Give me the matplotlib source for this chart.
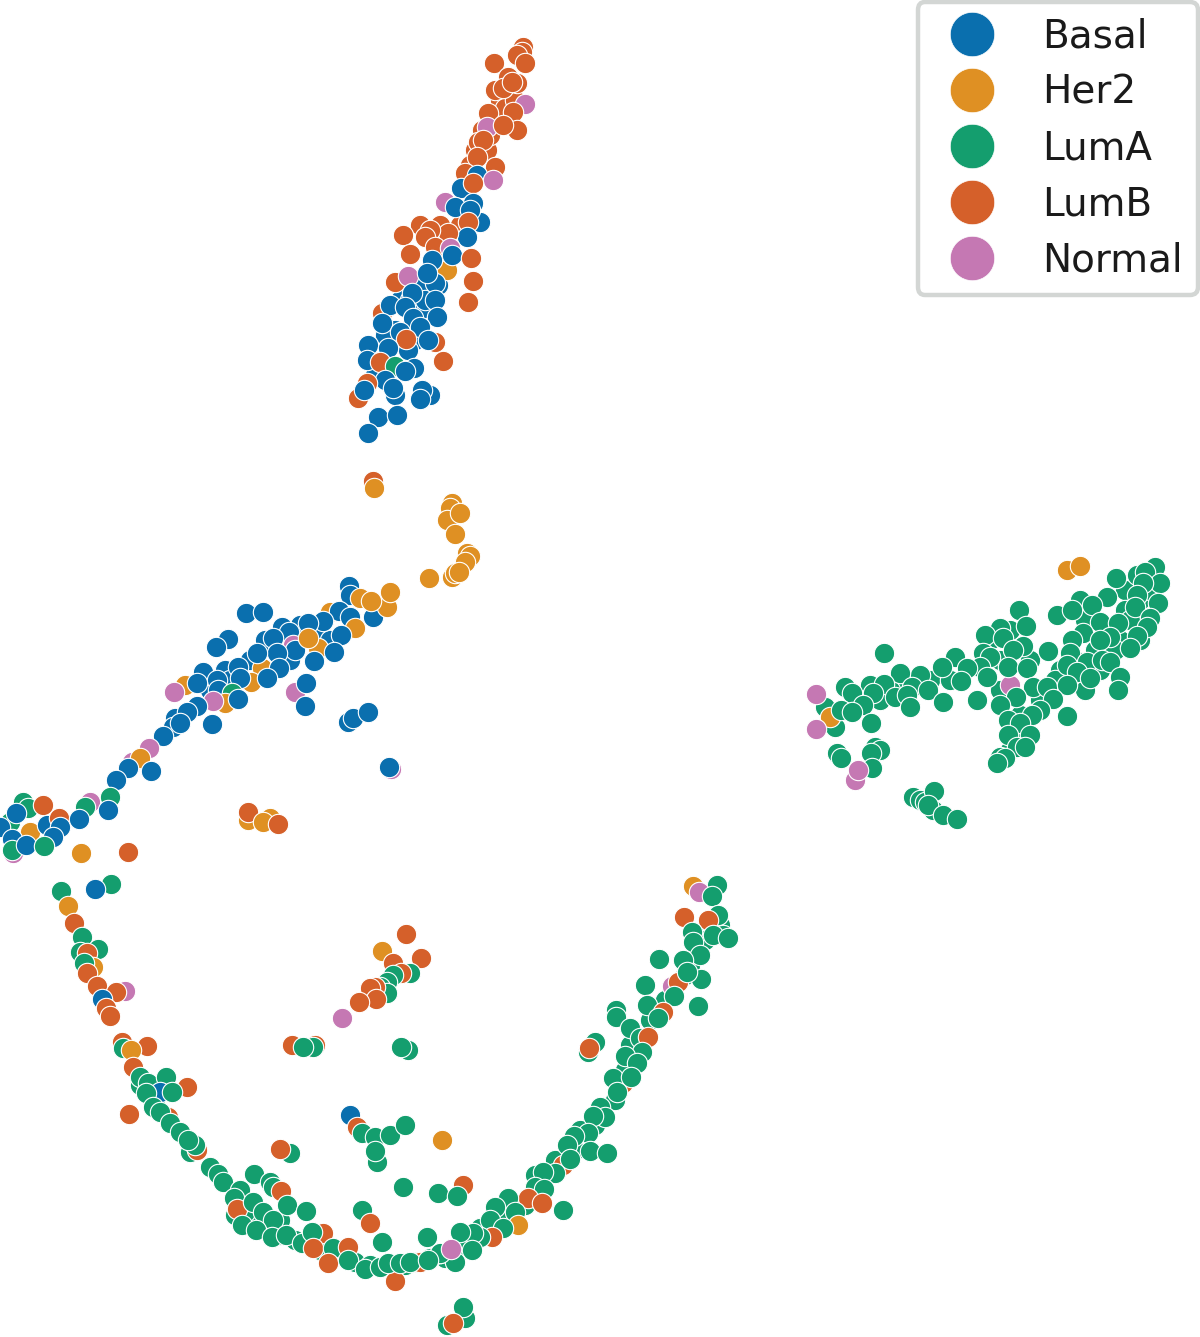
import matplotlib
matplotlib.use('Agg')
import matplotlib.pyplot as plt
from matplotlib.lines import Line2D

subtypes = ['Basal', 'Her2', 'LumA', 'LumB', 'Normal']
codes = ['B', 'H', 'A', 'L', 'N']
colors = ['#0A6FAE', '#DF9023', '#149E6E', '#D5602A', '#C578B3']

# embedding values per cluster, in draw order (later points sit on top)
dense_x = [500, 510, 497, 505, 475, 487, 482, 490, 470, 515,
           438, 420, 400, 420, 395, 415, 410, 425, 385, 375, 395, 408, 390,
           440, 420, 460,
           300, 320, 300, 285, 265, 225, 210, 230, 250, 175, 330, 290,
           1125, 1140, 1150, 1125, 1120, 1095, 1075, 1060, 1085, 1055,
           1100, 1040, 1020, 1015, 1000, 990, 1010, 1030, 1000, 930,
           905, 890, 870, 860, 950, 880, 1130, 1115, 1140, 1085,
           1025, 1010, 1000,
           235, 250, 265, 280, 295, 320, 355, 415, 370, 395,
           405, 245, 280, 155, 140, 190,
           480, 500, 525, 535, 555, 575, 580, 595, 600, 615,
           625, 635, 630, 650, 665, 685, 690, 700, 710, 705,
           720, 460, 445]
dense_y = [100, 95, 118, 108, 150, 150, 130, 135, 165, 100,
           285, 285, 300, 310, 330, 340, 300, 300, 335, 375, 395, 350, 365,
           225, 225, 225,
           640, 630, 625, 655, 640, 670, 690, 680, 660, 718, 640, 660,
           590, 600, 590, 610, 640, 650, 660, 670, 690, 680,
           670, 700, 715, 735, 690, 640, 630, 660, 660, 680,
           680, 690, 685, 700, 680, 700, 620, 650, 640, 620,
           735, 750, 757,
           1215, 1220, 1225, 1235, 1240, 1250, 1262, 1262, 1265, 1265,
           1265, 1212, 1220, 1100, 1085, 1152,
           1228, 1215, 1205, 1175, 1160, 1150, 1130, 1125, 1115, 1100,
           1070, 1050, 1045, 1020, 1000, 975, 965, 945, 925, 940,
           925, 1245, 1258]
dense_type = list('L' * 10 + 'B' * 13 + 'L' * 3 + 'B' * 12 + 'A' * 33 + 'A' * 16 + 'A' * 23)

upper_x = [523, 522, 517, 494, 525, 508, 517, 495, 503, 512,
           525, 488, 513, 487, 517, 503, 478, 483, 495, 477,
           465, 477, 461, 493, 473, 445, 480, 473, 455, 470,
           468, 467, 448, 403, 430, 425, 435, 410, 450, 447,
           395, 408, 432, 452, 435, 427, 471, 473, 468, 412,
           382, 390, 405, 435, 437, 413, 382, 400, 420, 406,
           435, 428, 368, 388, 443, 367, 380, 395, 422, 414,
           405, 385, 393, 367, 358, 364, 430, 422, 420, 378,
           397, 368]
upper_y = [47, 52, 55, 63, 63, 77, 83, 90, 88, 82,
           104, 113, 112, 127, 130, 125, 142, 140, 167, 157,
           173, 175, 188, 180, 183, 202, 222, 203, 207, 210,
           222, 237, 233, 235, 230, 237, 247, 254, 248, 270,
           282, 276, 260, 255, 283, 273, 258, 281, 302, 293,
           313, 305, 307, 300, 317, 318, 323, 332, 327, 339,
           342, 340, 345, 348, 361, 360, 362, 366, 390, 368,
           371, 380, 388, 383, 398, 390, 395, 390, 399, 417,
           415, 433]
upper_type = list('LLLLLLLLLL'
                  'NLLNLLLLLL'
                  'LBBNLNBBBB'
                  'LBLLLLLLNH'
                  'LNBBBBLLLB'
                  'LBBBBBBBBL'
                  'LBBBLBLABB'
                  'BBBLLBBBBB'
                  'BB')

her2_x = [373, 374, 452, 450, 447, 460, 455, 467, 470, 465, 429, 452, 455, 459]
her2_y = [481, 488, 503, 508, 520, 513, 534, 553, 556, 562, 578, 577, 573, 572]
her2_type = list('LHHHHHHHHHHHHH')

middle_x = [349, 350, 360, 330, 339, 350, 323, 308, 282, 289,
            373, 387, 390, 371, 355, 341, 273, 293, 318, 295,
            308, 228, 216, 334, 277, 262, 257, 314, 279, 238,
            251, 203, 240, 217, 185, 197, 218, 267, 174, 232,
            225, 238, 213, 197, 187, 295, 306, 305, 348, 353,
            368, 212, 173, 180, 163, 149, 132, 140, 128, 151,
            116, 391, 389]
middle_y = [586, 595, 598, 612, 611, 617, 621, 623, 627, 632,
            617, 607, 592, 601, 628, 635, 638, 645, 648, 650,
            638, 639, 647, 652, 653, 668, 653, 661, 668, 667,
            682, 672, 678, 680, 685, 683, 690, 678, 692, 693,
            703, 699, 701, 706, 712, 692, 683, 706, 722, 718,
            712, 724, 727, 723, 736, 748, 762, 758, 768, 771,
            780, 769, 767]
middle_type = list('BBHHBBBBBB'
                   'BHHHHBBNHB'
                   'HBBBBHBBBB'
                   'HBBBHBBBNA'
                   'HBNBBNBBBB'
                   'BBBBBNNHBB'
                   'BNB')

pair_x = [246, 263]
pair_y = [613, 612]
pair_type = list('BB')

blob_x = [23, 28, 90, 85, 10, 43, 16, 30, 47, 59,
          0, 60, 79, 110, 108, 53, 12, 13, 12, 26,
          44, 81, 128, 248, 248, 270, 263, 278]
blob_y = [802, 808, 802, 807, 822, 805, 813, 832, 825, 818,
          827, 827, 819, 797, 810, 837, 839, 853, 850, 845,
          846, 853, 852, 820, 812, 818, 822, 824]
blob_type = list('AANAALBHBL'
                 'BBBABBBNAB'
                 'AHLHLHHL')

right_x = [1010, 825, 835, 830, 816, 816, 1067, 1080,
           1155, 1137, 1145, 1116, 1160, 1143, 1137, 1158, 1080, 1107,
           1092, 1135, 1057, 1072, 1019, 1150, 1100, 1118, 1147, 1026,
           1000, 985, 1003, 1083, 1137, 1110, 1100, 1130, 1023, 1013,
           1048, 1072, 884, 983, 990, 1070, 955, 1087, 1102, 1110,
           1067, 980, 942, 1008, 1027, 967, 920, 1077, 900, 987,
           961, 1090, 1120, 884, 845, 912, 928, 852, 1033, 1047,
           1067, 873, 895, 907, 943, 1118, 977, 1016, 1053, 1000,
           910, 863, 841, 852, 1067, 1040, 1032, 871, 1008, 1020,
           1008, 1030, 1017, 1025, 1005, 997,
           837, 841, 875, 880, 871, 872, 855, 858,
           913, 920, 925, 934, 933, 928, 943, 957]
right_y = [685, 707, 727, 717, 694, 729, 570, 566,
           567, 575, 572, 578, 583, 583, 595, 603, 600, 597,
           605, 607, 615, 610, 610, 618, 622, 623, 627, 626,
           628, 635, 638, 633, 636, 637, 640, 648, 646, 650,
           651, 640, 653, 653, 657, 653, 657, 662, 660, 662,
           665, 667, 667, 667, 668, 668, 675, 672, 673, 677,
           681, 678, 677, 684, 687, 687, 690, 693, 687, 687,
           685, 693, 697, 695, 702, 690, 700, 697, 699, 705,
           707, 705, 710, 712, 716, 710, 715, 723, 720, 723,
           735, 735, 747, 747, 758, 763,
           753, 758, 747, 750, 753, 768, 780, 770,
           797, 800, 802, 791, 810, 805, 815, 819]
right_type = list('NAAHNN' 'HH'
                  'AAAAAAAAAA'
                  'AAAAAAAAAA'
                  'AAAAAAAAAA'
                  'AAAAAAAAAA'
                  'AAAAAAAAAA'
                  'AAAAAAAAAA'
                  'AAAAAAAAAA'
                  'AAAAAAAAAA'
                  'AAAAAA'
                  'AAAAAANN'
                  'AAAAAAAA')

arc_left_x = [61, 111, 95, 68, 74, 82, 98, 80, 87, 93,
              84, 87, 97, 125, 116, 102, 106, 110,
              122, 147, 123, 131, 133, 140, 148, 166, 187, 160,
              172, 146, 153, 168, 160, 129, 170, 180, 197, 195,
              188, 210, 218, 223, 240, 254, 270, 273, 281, 234,
              287, 237, 253, 263, 273, 306, 242, 256, 272, 286,
              323, 302, 312, 313, 333, 348, 328, 348, 395, 365,
              380, 420, 388, 400, 410, 430, 427, 440]
arc_left_y = [891, 884, 889, 906, 923, 937, 949, 952, 953, 967,
              963, 973, 986, 991, 992, 999, 1008, 1016,
              1042, 1046, 1048, 1050, 1067, 1077, 1083, 1077, 1087, 1092,
              1092, 1093, 1107, 1117, 1112, 1114, 1123, 1132, 1150, 1145,
              1140, 1167, 1174, 1182, 1190, 1174, 1182, 1187, 1191, 1198,
              1205, 1209, 1202, 1212, 1220, 1211, 1225, 1230, 1237, 1235,
              1233, 1243, 1232, 1248, 1248, 1247, 1263, 1260, 1281, 1269,
              1267, 1262, 1263, 1263, 1262, 1258, 1237, 1253]
arc_left_type = list('AABHLAAALH'
                     'ALLNLBLL'
                     'LLAHLAAALB'
                     'AAALALAALA'
                     'AAAAAAAALA'
                     'ALAAAAAAAA'
                     'LAALALLALA'
                     'ALAAAAAA')

arc_right_x = [693, 717, 699, 712, 684, 718, 708, 692, 723, 713,
               728, 693, 700, 659, 683, 701, 672, 678, 687, 674,
               645, 647, 698, 663, 658, 616, 616, 630, 640, 648,
               595, 588, 589, 642, 625, 637, 623, 613, 631, 617,
               600, 605, 593, 588, 574, 567, 590, 607, 563, 570,
               555, 543, 535, 544, 528, 542, 563, 508, 495, 515,
               518, 490, 503, 492, 480, 473, 460, 472, 427, 455,
               440, 428, 451]
arc_right_y = [886, 885, 892, 896, 917, 915, 920, 932, 935, 935,
               938, 942, 955, 959, 960, 979, 986, 982, 972, 996,
               985, 1005, 1006, 1012, 1018, 1010, 1017, 1028, 1038, 1037,
               1042, 1052, 1048, 1052, 1056, 1063, 1083, 1078, 1077, 1092,
               1107, 1117, 1116, 1133, 1136, 1145, 1151, 1153, 1165, 1159,
               1173, 1172, 1187, 1189, 1198, 1203, 1210, 1198, 1207, 1212,
               1225, 1220, 1228, 1237, 1237, 1233, 1232, 1250, 1237, 1262,
               1253, 1260, 1249]
arc_right_type = list('HANALALAAA'
                      'AAAAAANLAA'
                      'AAALAAAAAL'
                      'AALAAALAAA'
                      'AAAAAAAALA'
                      'AAAALLAAAA'
                      'HAALAAAAAA'
                      'AAN')

inner_x = [406, 382, 421, 393, 410, 401, 393, 387, 380, 387,
           375, 370, 376, 359, 342,
           292, 315, 313, 303, 408, 401,
           350, 357, 362, 375, 390, 405, 377, 375, 442,
           290, 280, 403, 463, 438, 457, 362, 370, 382,
           465, 447, 463, 453]
inner_y = [934, 951, 958, 963, 973, 973, 975, 982, 987, 993,
           987, 988, 999, 1002, 1018,
           1045, 1045, 1047, 1047, 1050, 1047,
           1115, 1127, 1133, 1137, 1135, 1125, 1162, 1151, 1140,
           1153, 1149, 1187, 1185, 1193, 1196, 1210, 1223, 1242,
           1318, 1325, 1307, 1323]
inner_type = list('LHLLALAAAA'
                  'LLLLN'
                  'LLAAAA'
                  'BLAAAAAAH'
                  'ALALAAALA'
                  'AAAL')

clusters = [(dense_x, dense_y, dense_type),
            (upper_x, upper_y, upper_type),
            (her2_x, her2_y, her2_type),
            (middle_x, middle_y, middle_type),
            (pair_x, pair_y, pair_type),
            (blob_x, blob_y, blob_type),
            (right_x, right_y, right_type),
            (arc_left_x, arc_left_y, arc_left_type),
            (arc_right_x, arc_right_y, arc_right_type),
            (inner_x, inner_y, inner_type)]

code_color = dict(zip(codes, colors))

fig = plt.figure(figsize=(12, 13.37), dpi=100)
ax = fig.add_axes([0, 0, 1, 1])

for xs, ys, kinds in clusters:
    for x, y, k in zip(xs, ys, kinds, strict=True):
        ax.scatter(x, y, s=215, color=code_color[k], edgecolor='white', linewidth=0.8)

ax.set_xlim(0, 1200)
ax.set_ylim(1337, 0)
ax.axis('off')

handles = [Line2D([], [], linestyle='none', marker='o', markersize=32, color=c,
                  markeredgecolor='white', markeredgewidth=0.5) for c in colors]
leg = ax.legend(handles, subtypes, loc='upper right', bbox_to_anchor=(0.9985, 0.9985),
                borderaxespad=0, fontsize=28, labelspacing=0.46, framealpha=1)
leg.get_frame().set_linewidth(3.2)
leg.get_frame().set_edgecolor('#D3D6D4')
for t in leg.get_texts():
    t.set_color('#1a1a1a')

plt.savefig('out.png', dpi=100)
plt.close()
